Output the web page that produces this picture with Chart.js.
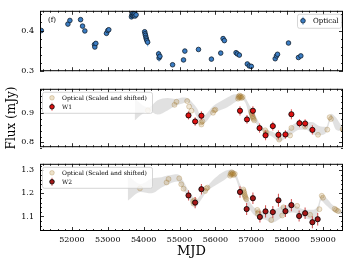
<!DOCTYPE html>
<html>
<head>
<meta charset="utf-8">
<script src="https://cdn.jsdelivr.net/npm/chart.js@4.4.0/dist/chart.umd.min.js"></script>
<style>
  html, body { margin: 0; padding: 0; background: #fff; }
  #wrap { position: relative; width: 349px; height: 265px; overflow: hidden; }
  canvas { position: absolute; left: 0; }
</style>
</head>
<body>
<div id="wrap">
  <canvas id="p1" width="349" height="82" style="top:0px"></canvas>
  <canvas id="p2" width="349" height="80" style="top:78px"></canvas>
  <canvas id="p3" width="349" height="112" style="top:153px"></canvas>
</div>
<script>
const SERIF = "'DejaVu Serif', serif";

// x axis (MJD)
const xMin = 51111, xMax = 59556;
const xTicks = [52000, 53000, 54000, 55000, 56000, 57000, 58000, 59000];

// optical light curve
const optMjd = [51147, 51889, 51944, 52242, 52297, 52361, 52630, 52639, 52667, 52964, 53000, 53028,
  53660, 53675, 53690, 53705, 53720, 53740, 53760, 53790,
  54028, 54040, 54052, 54064, 54076, 54090, 54111,
  54417, 54430, 54453, 54806, 55111, 55148, 55528, 55889, 56148, 56214, 56250,
  56575, 56611, 56667, 56889, 56945, 57000, 57667, 57703, 57731, 58037, 58314, 58381];
const optFlux = [0.400, 0.416, 0.425, 0.427, 0.411, 0.399, 0.365, 0.359, 0.368, 0.393, 0.400, 0.402,
  0.434, 0.440, 0.437, 0.443, 0.438, 0.441, 0.436, 0.439,
  0.397, 0.392, 0.388, 0.383, 0.379, 0.375, 0.371,
  0.342, 0.332, 0.336, 0.315, 0.327, 0.349, 0.353, 0.329, 0.344, 0.380, 0.375,
  0.345, 0.342, 0.339, 0.317, 0.312, 0.311, 0.330, 0.337, 0.341, 0.369, 0.333, 0.337];
const optErr = [0.004, 0.004, 0.004, 0.004, 0.004, 0.004, 0.004, 0.004, 0.004, 0.004, 0.004, 0.004,
  0.004, 0.004, 0.004, 0.004, 0.004, 0.004, 0.004, 0.004,
  0.005, 0.005, 0.006, 0.006, 0.007, 0.008, 0.010,
  0.008, 0.009, 0.008, 0.004, 0.004, 0.006, 0.004, 0.004, 0.004, 0.006, 0.004,
  0.004, 0.004, 0.004, 0.004, 0.004, 0.004, 0.004, 0.004, 0.004, 0.004, 0.004, 0.004];
const optTicks = [0.3, 0.4];

// W1
const w1Mjd = [55250, 55435, 55610, 56685, 56880, 57045, 57230, 57397, 57600, 57757, 57952, 58118, 58342, 58500, 58703];
const w1Flux = [0.893, 0.872, 0.892, 0.909, 0.879, 0.909, 0.849, 0.824, 0.856, 0.826, 0.827, 0.897, 0.866, 0.865, 0.843];
const w1Err = [0.014, 0.015, 0.015, 0.016, 0.015, 0.016, 0.016, 0.017, 0.015, 0.016, 0.015, 0.017, 0.014, 0.015, 0.016];
const w1Ticks = [0.8, 0.9];
// optical scaled and shifted onto W1
const w1Lag = 2970, w1Gain = 1.19, w1At044 = 0.958;
// shaded envelope for W1 panel
const band1Mjd = [53750, 53945, 54139, 54389, 54667, 54889, 55084, 55222, 55361, 55500, 55611, 55750, 55917,
  56111, 56333, 56556, 56695, 56834, 56973, 57084, 57223, 57390, 57584, 57778, 57973, 58139, 58334, 58528,
  58695, 58889, 59084, 59223, 59362, 59528, 59650];
const band1Hi = [0.953, 0.931, 0.921, 0.945, 0.953, 0.950, 0.955, 0.953, 0.937, 0.915, 0.888, 0.899, 0.923,
  0.939, 0.955, 0.966, 0.966, 0.953, 0.923, 0.902, 0.867, 0.843, 0.837, 0.824, 0.837, 0.859, 0.870, 0.870,
  0.870, 0.856, 0.853, 0.899, 0.886, 0.856, 0.850];
const band1Lo = [0.875, 0.896, 0.907, 0.896, 0.910, 0.926, 0.934, 0.939, 0.915, 0.883, 0.862, 0.872, 0.899,
  0.910, 0.921, 0.939, 0.950, 0.937, 0.883, 0.872, 0.851, 0.832, 0.819, 0.803, 0.816, 0.829, 0.843, 0.843,
  0.829, 0.824, 0.832, 0.878, 0.843, 0.838, 0.835];

// W2
const w2Mjd = [55250, 55435, 55610, 56685, 56870, 57045, 57240, 57397, 57600, 57757, 57952, 58118, 58333, 58500, 58703, 58850];
const w2Flux = [1.191, 1.160, 1.218, 1.206, 1.132, 1.179, 1.098, 1.122, 1.119, 1.170, 1.123, 1.149, 1.102, 1.114, 1.075, 1.088];
const w2Err = [0.022, 0.024, 0.023, 0.025, 0.026, 0.025, 0.024, 0.027, 0.026, 0.028, 0.025, 0.027, 0.024, 0.025, 0.026, 0.027];
const w2Ticks = [1.1, 1.2, 1.3];
const w2Lag = 2750, w2Gain = 1.61, w2At044 = 1.286;
const band2Mjd = [53556, 53917, 54222, 54500, 54667, 54945, 55084, 55222, 55361, 55445, 55556, 55750, 55973,
  56250, 56445, 56556, 56695, 56862, 57056, 57250, 57417, 57556, 57806, 57973, 58167, 58362, 58528, 58723,
  58862, 58945, 59084, 59279, 59501, 59650];
const band2Hi = [1.277, 1.240, 1.264, 1.270, 1.277, 1.283, 1.259, 1.220, 1.186, 1.170, 1.187, 1.225, 1.264,
  1.296, 1.302, 1.293, 1.238, 1.187, 1.142, 1.123, 1.117, 1.120, 1.142, 1.148, 1.148, 1.136, 1.129, 1.129,
  1.148, 1.193, 1.181, 1.148, 1.129, 1.125];
const band2Lo = [1.168, 1.206, 1.200, 1.225, 1.238, 1.251, 1.219, 1.187, 1.148, 1.142, 1.162, 1.206, 1.232,
  1.258, 1.277, 1.267, 1.206, 1.155, 1.110, 1.091, 1.085, 1.072, 1.091, 1.110, 1.117, 1.104, 1.091, 1.085,
  1.117, 1.168, 1.148, 1.123, 1.110, 1.105];

const pts = (xs, ys) => xs.map((x, i) => ({ x: x, y: ys[i] }));
const shifted = (lag, gain, at044) => optMjd.map((m, i) => ({ x: m + lag, y: at044 + gain * (optFlux[i] - 0.44) }));

const BEIGE = 'rgba(180,130,40,0.2)', BEIGE_EDGE = 'rgba(150,110,40,0.35)';
const BAND = 'rgba(170,170,170,0.35)';

// per-panel extras (tick steps, legends, tag)
const extra = {
  p1: { yMinor: [0.30, 0.44, 0.02], tag: '(f)',
        legend: { side: 'right', dx: 2, dy: 3, w: 44, h: 14, mx: 6, tx: 16, first: 7, step: 9, size: 7,
                  items: [{ label: 'Optical', fill: '#3b7dc4', edge: '#10202e', err: 4, errColor: 'rgba(70,140,210,0.8)' }] } },
  p2: { yMinor: [0.78, 0.98, 0.02],
        legend: { side: 'left', dx: 2, dy: 3, w: 110, h: 21, mx: 10, tx: 20, first: 6, step: 9, size: 6,
                  items: [{ label: 'Optical (Scaled and shifted)', fill: 'rgba(225,205,165,0.6)', edge: BEIGE_EDGE },
                          { label: 'W1', fill: '#dd1111', edge: '#000', err: 4, errColor: 'rgba(230,60,60,0.8)' }] } },
  p3: { yMinor: [1.04, 1.32, 0.02],
        legend: { side: 'left', dx: 2, dy: 3, w: 110, h: 21, mx: 10, tx: 20, first: 6, step: 9, size: 6,
                  items: [{ label: 'Optical (Scaled and shifted)', fill: 'rgba(225,205,165,0.6)', edge: BEIGE_EDGE },
                          { label: 'W2', fill: '#a51818', edge: '#000', err: 4, errColor: 'rgba(200,50,50,0.8)' }] } }
};

const errorBars = {
  id: 'errorBars',
  beforeDatasetDraw(chart, args) {
    const ds = chart.data.datasets[args.index];
    if (!ds.errs) return;
    const { ctx, chartArea: a, scales: { x, y } } = chart;
    ctx.save();
    ctx.beginPath(); ctx.rect(a.left, a.top, a.width, a.height); ctx.clip();
    ctx.strokeStyle = ds.errColor; ctx.lineWidth = 1.1;
    ctx.beginPath();
    ds.data.forEach((p, i) => {
      const px = x.getPixelForValue(p.x);
      ctx.moveTo(px, y.getPixelForValue(p.y - ds.errs[i]));
      ctx.lineTo(px, y.getPixelForValue(p.y + ds.errs[i]));
    });
    ctx.stroke();
    ctx.restore();
  }
};

const frameTicks = {
  id: 'frameTicks',
  afterDatasetsDraw(chart) {
    const { ctx, chartArea: a, scales: { x, y } } = chart;
    const ex = extra[chart.canvas.id];
    ctx.save();
    ctx.strokeStyle = '#000'; ctx.lineWidth = 0.8;
    ctx.beginPath();
    for (let v = 51200; v <= xMax; v += 200) {
      const px = Math.round(x.getPixelForValue(v)) + 0.5;
      const len = v % 1000 === 0 ? 4 : 2;
      ctx.moveTo(px, a.top); ctx.lineTo(px, a.top + len);
      ctx.moveTo(px, a.bottom); ctx.lineTo(px, a.bottom - len);
    }
    const [y0, y1, st] = ex.yMinor;
    for (let k = 0; y0 + k * st <= y1 + 1e-9; k++) {
      const v = y0 + k * st;
      const py = Math.round(y.getPixelForValue(v)) + 0.5;
      const len = Math.abs(v * 10 - Math.round(v * 10)) < 1e-6 ? 4 : 2;
      ctx.moveTo(a.left, py); ctx.lineTo(a.left + len, py);
      ctx.moveTo(a.right, py); ctx.lineTo(a.right - len, py);
    }
    ctx.stroke();
    ctx.lineWidth = 1;
    ctx.strokeRect(a.left + 0.5, a.top + 0.5, a.width - 1, a.height - 1);
    if (ex.tag) {
      ctx.fillStyle = '#000'; ctx.font = '7px ' + SERIF;
      ctx.textBaseline = 'middle'; ctx.textAlign = 'left';
      ctx.fillText(ex.tag, a.left + 8, a.top + 9.5);
    }
    ctx.restore();
  },
  afterDraw(chart) {
    const o = extra[chart.canvas.id].legend;
    const { ctx, chartArea: a } = chart;
    const x0 = o.side === 'right' ? a.right - o.dx - o.w : a.left + o.dx;
    const y0 = a.top + o.dy;
    ctx.save();
    ctx.fillStyle = 'rgba(255,255,255,0.8)'; ctx.strokeStyle = '#cccccc'; ctx.lineWidth = 0.8;
    ctx.beginPath();
    if (ctx.roundRect) ctx.roundRect(x0 + 0.5, y0 + 0.5, o.w, o.h, 2); else ctx.rect(x0 + 0.5, y0 + 0.5, o.w, o.h);
    ctx.fill(); ctx.stroke();
    ctx.font = o.size + 'px ' + SERIF; ctx.textBaseline = 'middle'; ctx.textAlign = 'left';
    o.items.forEach((it, i) => {
      const cy = y0 + o.first + i * o.step, cx = x0 + o.mx;
      if (it.err) {
        ctx.strokeStyle = it.errColor; ctx.lineWidth = 1;
        ctx.beginPath(); ctx.moveTo(cx, cy - it.err); ctx.lineTo(cx, cy + it.err); ctx.stroke();
      }
      ctx.beginPath(); ctx.arc(cx, cy, 2.3, 0, Math.PI * 2);
      ctx.fillStyle = it.fill; ctx.fill();
      ctx.strokeStyle = it.edge; ctx.lineWidth = 0.8; ctx.stroke();
      ctx.fillStyle = '#000';
      ctx.fillText(it.label, x0 + o.tx, cy + 0.5);
    });
    ctx.restore();
  }
};

function yScale(min, max, major, title) {
  return {
    min: min, max: max,
    afterFit: s => { s.width = 40; },
    afterBuildTicks: s => { s.ticks = major.map(v => ({ value: v })); },
    grid: { display: false, drawTicks: false, tickLength: 0 },
    border: { display: false },
    ticks: { padding: 6, color: '#000', font: { family: SERIF, size: 8 }, callback: v => v.toFixed(1) },
    title: title ? { display: true, text: title, color: '#000', font: { family: SERIF, size: 12 }, padding: { top: 5, bottom: 0 } } : { display: false }
  };
}

function xScale(show) {
  return {
    type: 'linear', min: xMin, max: xMax, display: show,
    afterFit: s => { s.height = show ? 34 : 0; },
    afterBuildTicks: s => { s.ticks = xTicks.map(v => ({ value: v })); },
    grid: { display: false, drawTicks: false, tickLength: 0 },
    border: { display: false },
    ticks: { padding: 4, autoSkip: false, maxRotation: 0, color: '#000', font: { family: SERIF, size: 8 }, callback: v => String(v) },
    title: { display: show, text: 'MJD', color: '#000', font: { family: SERIF, size: 13 }, padding: { top: 0, bottom: 6 } }
  };
}

function panel(id, datasets, y, showX, pad) {
  return new Chart(document.getElementById(id), {
    type: 'scatter',
    data: { datasets: datasets },
    options: {
      responsive: false, animation: false, devicePixelRatio: 1,
      layout: { padding: { left: 0, right: 6, top: pad[0], bottom: pad[1] } },
      plugins: { legend: { display: false }, tooltip: { enabled: false }, filler: { drawTime: 'beforeDatasetsDraw' } },
      scales: { x: xScale(showX), y: y }
    },
    plugins: [errorBars, frameTicks]
  });
}

function bandSets(xs, hi, lo) {
  return [
    { type: 'line', data: pts(xs, hi), showLine: true, borderWidth: 0, pointRadius: 0, fill: false,
      cubicInterpolationMode: 'monotone', order: 4 },
    { type: 'line', data: pts(xs, lo), showLine: true, borderWidth: 0, pointRadius: 0, fill: '-1',
      backgroundColor: BAND, cubicInterpolationMode: 'monotone', order: 3 }
  ];
}

panel('p1', [
  { data: pts(optMjd, optFlux), errs: optErr, errColor: 'rgba(70,140,210,0.75)',
    backgroundColor: '#3b7dc4', borderColor: '#10202e', borderWidth: 0.8, pointRadius: 2.3, order: 1 }
], yScale(0.299, 0.449, optTicks), false, [4, 2]);

panel('p2', [
  { data: pts(w1Mjd, w1Flux), errs: w1Err, errColor: 'rgba(230,60,60,0.8)',
    backgroundColor: '#dd1111', borderColor: '#000', borderWidth: 0.8, pointRadius: 2.6, order: 1 },
  { data: shifted(w1Lag, w1Gain, w1At044), backgroundColor: BEIGE, borderColor: BEIGE_EDGE,
    borderWidth: 0.8, pointRadius: 2.5, order: 2 },
  ...bandSets(band1Mjd, band1Hi, band1Lo)
], yScale(0.783, 0.985, w1Ticks, 'Flux (mJy)'), false, [2, 3]);

panel('p3', [
  { data: pts(w2Mjd, w2Flux), errs: w2Err, errColor: 'rgba(200,50,50,0.8)',
    backgroundColor: '#a51818', borderColor: '#000', borderWidth: 0.8, pointRadius: 2.6, order: 1 },
  { data: shifted(w2Lag, w2Gain, w2At044), backgroundColor: BEIGE, borderColor: BEIGE_EDGE,
    borderWidth: 0.8, pointRadius: 2.5, order: 2 },
  ...bandSets(band2Mjd, band2Hi, band2Lo)
], yScale(1.037, 1.328, w2Ticks), true, [2, 0]);
</script>
</body>
</html>
